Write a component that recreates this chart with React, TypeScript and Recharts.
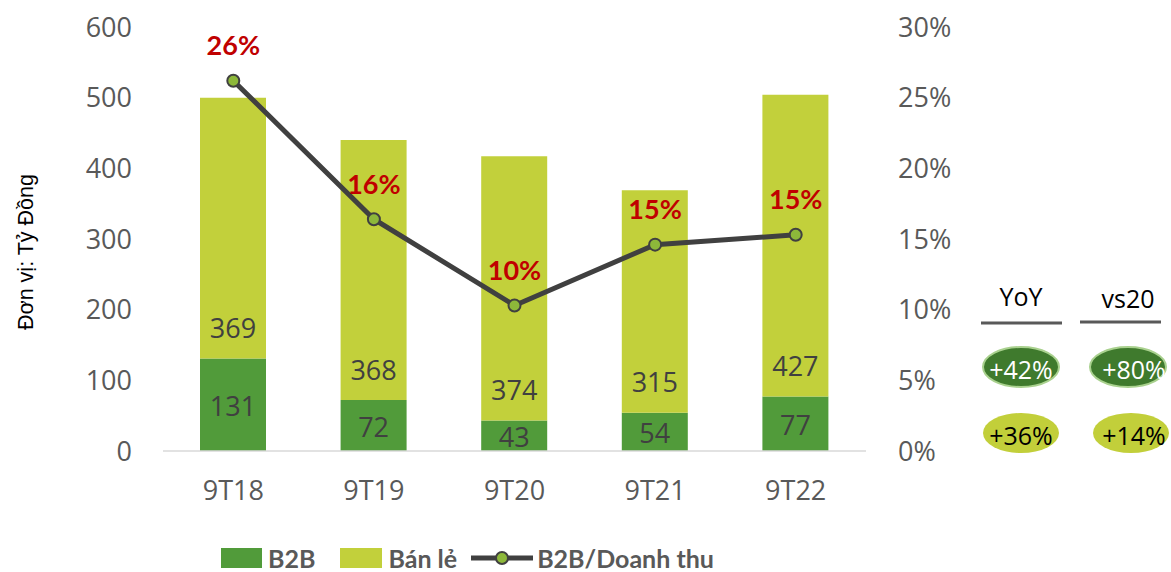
import React from "react";
import {
  ComposedChart,
  Bar,
  Line,
  XAxis,
  YAxis,
  Legend,
  LabelList,
} from "recharts";

const categories = ["9T18", "9T19", "9T20", "9T21", "9T22"];
const b2bValues = [131, 72, 43, 54, 77];
const retailValues = [369, 368, 374, 315, 427];
const ratioValues = [26.2, 16.4, 10.3, 14.6, 15.3];
const ratioLabels = ["26%", "16%", "10%", "15%", "15%"];
const leftTicks = [0, 100, 200, 300, 400, 500, 600];
const rightTicks = [0, 5, 10, 15, 20, 25, 30];
const compareHeaders = ["YoY", "vs20"];
const b2bGrowth = ["+42%", "+80%"];
const retailGrowth = ["+36%", "+14%"];

const data = categories.map((c, i) => ({
  name: c,
  b2b: b2bValues[i],
  retail: retailValues[i],
  ratio: ratioValues[i],
  ratioLabel: ratioLabels[i],
}));

const GREEN = "#519B3A";
const LIME = "#C2D03B";
const LINE = "#404040";
const DOT = "#8DB83A";
const AXIS_TEXT = "#595959";
const RED = "#C00000";
const SANS = "'Open Sans', sans-serif";
const BOLD = "Lato, sans-serif";

const RetailLabel = (props: any) => {
  const { x, y, width, height, value } = props;
  return (
    <text
      x={x + width / 2}
      y={y + height - 31}
      textAnchor="middle"
      dominantBaseline="central"
      fill="#404040"
      fontSize={27}
      fontFamily={SANS}
    >
      {value}
    </text>
  );
};

const B2BLabel = (props: any) => {
  const { x, y, width, height, value } = props;
  return (
    <text
      x={x + width / 2}
      y={y + height / 2 + 1}
      textAnchor="middle"
      dominantBaseline="central"
      fill="#404040"
      fontSize={27}
      fontFamily={SANS}
    >
      {value}
    </text>
  );
};

const RatioLabel = (props: any) => {
  const { x, y, value } = props;
  return (
    <text
      x={x}
      y={y - 36}
      textAnchor="middle"
      dominantBaseline="central"
      fill={RED}
      fontSize={27}
      fontWeight="bold"
      fontFamily={BOLD}
    >
      {value}
    </text>
  );
};

const LegendContent = () => (
  <div
    style={{
      position: "relative",
      top: 6,
      display: "flex",
      alignItems: "center",
      marginLeft: 221,
      fontFamily: BOLD,
      fontWeight: "bold",
      fontSize: 25,
      lineHeight: "24px",
      color: AXIS_TEXT,
      height: 40,
    }}
  >
    <span style={{ width: 41, height: 20, background: GREEN, display: "inline-block" }} />
    <span style={{ marginLeft: 6, marginRight: 25 }}>B2B</span>
    <span style={{ width: 42, height: 20, background: LIME, display: "inline-block" }} />
    <span style={{ marginLeft: 6, marginRight: 14 }}>Bán lẻ</span>
    <svg width={62} height={20} style={{ display: "inline-block" }}>
      <line x1={0} y1={10} x2={62} y2={10} stroke={LINE} strokeWidth={5} />
      <circle cx={31} cy={10} r={6} fill={DOT} stroke={LINE} strokeWidth={2} />
    </svg>
    <span style={{ marginLeft: 4 }}>B2B/Doanh thu</span>
  </div>
);

const SidePanel = () => {
  const cols = [1021, 1128];
  return (
    <svg
      width={1171}
      height={572}
      style={{ position: "absolute", left: 0, top: 0, pointerEvents: "none" }}
    >
      {compareHeaders.map((h, i) => (
        <g key={h}>
          <text
            x={cols[i]}
            y={296 + i * 2}
            textAnchor="middle"
            dominantBaseline="central"
            fontSize={25}
            fontFamily={SANS}
            fill="#000"
          >
            {h}
          </text>
          <line
            x1={cols[i] - 40 + (i === 1 ? -8 : 0)}
            x2={cols[i] + 41 + (i === 1 ? -8 : 0)}
            y1={323 - i}
            y2={323 - i}
            stroke="#595959"
            strokeWidth={3}
          />
        </g>
      ))}
      {b2bGrowth.map((g, i) => (
        <g key={g}>
          <ellipse
            cx={cols[i]}
            cy={367}
            rx={38}
            ry={20}
            fill="#3F7A2D"
            stroke="#A9D18E"
            strokeWidth={2}
          />
          <text
            x={cols[i] + (i === 1 ? 6 : 0)}
            y={369}
            textAnchor="middle"
            dominantBaseline="central"
            fontSize={25}
            fontFamily={SANS}
            fill="#fff"
          >
            {g}
          </text>
        </g>
      ))}
      {retailGrowth.map((g, i) => (
        <g key={g}>
          <ellipse
            cx={cols[i] + (i === 1 ? 3 : 0)}
            cy={433}
            rx={38}
            ry={20}
            fill="#C2CF3A"
          />
          <text
            x={cols[i] + (i === 1 ? 6 : 0)}
            y={435}
            textAnchor="middle"
            dominantBaseline="central"
            fontSize={25}
            fontFamily={SANS}
            fill="#000"
          >
            {g}
          </text>
        </g>
      ))}
      <text
        x={26}
        y={252}
        transform="rotate(-90 26 252)"
        textAnchor="middle"
        dominantBaseline="central"
        fontSize={21.5}
        fontFamily="'Liberation Sans', Arial, sans-serif"
        fill="#000"
      >
        Đơn vị: Tỷ Đồng
      </text>
    </svg>
  );
};

export default function App() {
  return (
    <div
      style={{
        position: "absolute",
        left: 0,
        top: 0,
        width: 1171,
        height: 572,
        background: "#fff",
      }}
    >
      <ComposedChart
        width={1171}
        height={572}
        data={data}
        margin={{ top: 27, right: 205, left: 0, bottom: 0 }}
        barCategoryGap={0}
      >
        <XAxis
          dataKey="name"
          axisLine={{ stroke: "#D9D9D9", strokeWidth: 1.5 }}
          tickLine={false}
          tickSize={0}
          tickMargin={30}
          height={81}
          tick={{ fill: AXIS_TEXT, fontSize: 27, fontFamily: SANS }}
        />
        <YAxis
          yAxisId="left"
          domain={[0, 600]}
          ticks={leftTicks}
          axisLine={false}
          tickLine={false}
          tickSize={0}
          tickMargin={31}
          width={163}
          tick={{ fill: AXIS_TEXT, fontSize: 27, fontFamily: SANS }}
        />
        <YAxis
          yAxisId="right"
          orientation="right"
          domain={[0, 30]}
          ticks={rightTicks}
          tickFormatter={(v: number) => `${v}%`}
          axisLine={false}
          tickLine={false}
          tickSize={0}
          tickMargin={32}
          width={100}
          tick={{ fill: AXIS_TEXT, fontSize: 27, fontFamily: SANS, textAnchor: "start" }}
        />
        <Legend
          verticalAlign="bottom"
          content={<LegendContent />}
          wrapperStyle={{ height: 40 }}
        />
        <Bar
          yAxisId="left"
          dataKey="b2b"
          stackId="a"
          fill={GREEN}
          barSize={66}
          isAnimationActive={false}
        >
          <LabelList dataKey="b2b" content={<B2BLabel />} />
        </Bar>
        <Bar
          yAxisId="left"
          dataKey="retail"
          stackId="a"
          fill={LIME}
          barSize={66}
          isAnimationActive={false}
        >
          <LabelList dataKey="retail" content={<RetailLabel />} />
        </Bar>
        <Line
          yAxisId="right"
          dataKey="ratio"
          stroke={LINE}
          strokeWidth={5}
          dot={{ r: 6, fill: DOT, stroke: LINE, strokeWidth: 2 }}
          isAnimationActive={false}
        >
          <LabelList dataKey="ratioLabel" content={<RatioLabel />} />
        </Line>
      </ComposedChart>
      <SidePanel />
    </div>
  );
}
